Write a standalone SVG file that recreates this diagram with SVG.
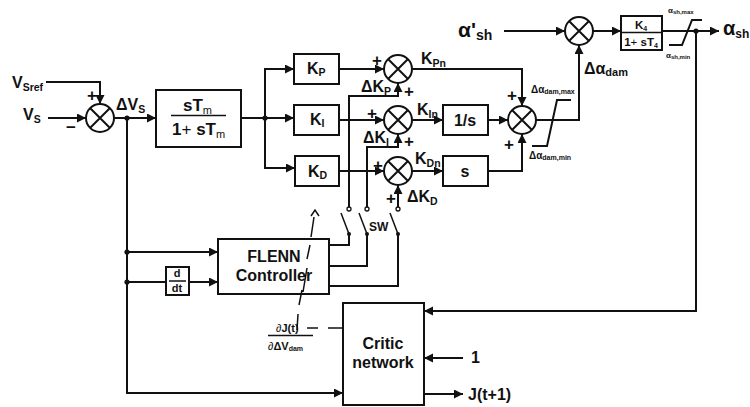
<svg xmlns="http://www.w3.org/2000/svg" width="750" height="407" viewBox="0 0 750 407">
<style>
text{font-family:"Liberation Sans",Arial,sans-serif;font-weight:700;fill:#111}
.l{fill:none;stroke:#111;stroke-width:2}
.n{fill:none;stroke:#111;stroke-width:1.5}
.b{fill:#fff;stroke:#111;stroke-width:2}
.s{fill:#fff;stroke:#111;stroke-width:2}
.t{font-size:16px}.m{text-anchor:middle}
.sm{font-size:10.500px}
.pl{font-size:17px}
.r{font-weight:400}
.d{fill:#111}
.o{fill:#fff;stroke:#111;stroke-width:1.3}
</style>
<defs>
<marker id="a" markerUnits="userSpaceOnUse" markerWidth="10" markerHeight="10" refX="9" refY="4.500" orient="auto"><path d="M0 0L9 4.500L0 9Z" fill="#111"/></marker>
<g id="x"><circle r="14" class="s"/><path d="M-10-10L10 10M-10 10L10-10" class="l"/></g>
</defs>
<g id="connectors">
<path class="l" d="M46 82H100V104" marker-end="url(#a)"/>
<path class="l" d="M48 118H86" marker-end="url(#a)"/>
<path class="l" d="M114 118H156" marker-end="url(#a)"/>
<path class="l" d="M241 118H294" marker-end="url(#a)"/>
<path class="l" d="M265 118V69H294" marker-end="url(#a)"/>
<path class="l" d="M265 118V168H295" marker-end="url(#a)"/>
<path class="l" d="M339 69H384" marker-end="url(#a)"/>
<path class="l" d="M339 120H384" marker-end="url(#a)"/>
<path class="l" d="M339 171H384" marker-end="url(#a)"/>
<path class="l" d="M412 69H522V106" marker-end="url(#a)"/>
<path class="l" d="M412 120H443" marker-end="url(#a)"/>
<path class="l" d="M488 120H508" marker-end="url(#a)"/>
<path class="l" d="M412 171H443" marker-end="url(#a)"/>
<path class="l" d="M488 171H522V134" marker-end="url(#a)"/>
<path class="l" d="M536 120H579V45" marker-end="url(#a)"/>
<path class="l" d="M532 146H547L557 100H571"/>
<path class="l" d="M504 31H565" marker-end="url(#a)"/>
<path class="l" d="M593 31H621" marker-end="url(#a)"/>
<path class="l" d="M662 31H719" marker-end="url(#a)"/>
<path class="l" d="M669 45H682L692 20H702"/>
<path class="l" d="M696 31V311H424" marker-end="url(#a)"/>
<path class="l" d="M127 118V393H343" marker-end="url(#a)"/>
<path class="l" d="M127 252H218" marker-end="url(#a)"/>
<path class="l" d="M127 282H166"/>
<path class="l" d="M189 282H218" marker-end="url(#a)"/>
<path class="l" d="M329 245H349V234"/>
<path class="l" d="M329 266H367V234"/>
<path class="l" d="M329 286H398V234"/>
<path class="n" d="M341 213L349 234M359 213L367 234M390 213L398 234"/>
<path class="l" d="M349 209V96H398V83" marker-end="url(#a)"/>
<path class="l" d="M367 209V147H398V134" marker-end="url(#a)"/>
<path class="l" d="M398 209V185" marker-end="url(#a)"/>
<path class="l" d="M463 358H424" marker-end="url(#a)"/>
<path class="l" d="M424 394H463" marker-end="url(#a)"/>
<path class="n" d="M343 328H328M318 328H307"/>
</g>
<g id="junctions">
<circle class="d" cx="127" cy="118" r="2.600"/><circle class="d" cx="265" cy="118" r="2.600"/><circle class="d" cx="696" cy="31" r="2.600"/><circle class="d" cx="127" cy="252" r="2.600"/><circle class="d" cx="127" cy="282" r="2.600"/>
<circle class="d" cx="349" cy="234" r="2"/><circle class="d" cx="367" cy="234" r="2"/><circle class="d" cx="398" cy="234" r="2"/>
<circle class="o" cx="349" cy="209" r="2"/><circle class="o" cx="367" cy="209" r="2"/><circle class="o" cx="398" cy="209" r="2"/>
</g>
<g id="sum1"><use href="#x" x="100" y="118"/></g>
<g id="sumP"><use href="#x" x="398" y="69"/></g>
<g id="sumI"><use href="#x" x="398" y="120"/></g>
<g id="sumD"><use href="#x" x="398" y="171"/></g>
<g id="sum4"><use href="#x" x="522" y="120"/></g>
<g id="sum5"><use href="#x" x="579" y="31"/></g>
<g id="washout"><rect class="b" x="156" y="90" width="85" height="57"/><path class="n" d="M171 115.500H226"/>
<text x="183" y="111" style="font-size:17px">sT<tspan dy="3" class="r" style="font-size:11px">m</tspan></text>
<text x="172" y="135" style="font-size:17px">1<tspan class="r">+</tspan> sT<tspan dy="3" class="r" style="font-size:11px">m</tspan></text></g>
<g id="kp"><rect class="b" x="294" y="54" width="45" height="30"/><text class="t" x="307" y="74">K<tspan class="sm" dy="2">P</tspan></text></g>
<g id="ki"><rect class="b" x="294" y="105" width="45" height="30"/><text class="t" x="310" y="125">K<tspan class="sm" dy="2">I</tspan></text></g>
<g id="kd"><rect class="b" x="295" y="156" width="44" height="30"/><text class="t" x="308" y="177">K<tspan class="sm" dy="2">D</tspan></text></g>
<g id="integ"><rect class="b" x="443" y="105" width="45" height="30"/><text class="t m" x="465" y="126">1/s</text></g>
<g id="deriv"><rect class="b" x="443" y="156" width="45" height="30"/><text class="t m" x="465" y="177">s</text></g>
<g id="k4"><rect class="b" x="621" y="16" width="41" height="34"/><path class="n" d="M622 32.500H661"/>
<text class="m" x="641" y="29" style="font-size:11.500px">K<tspan dy="2" style="font-size:7px">4</tspan></text>
<text class="m" x="641" y="46" style="font-size:11.500px">1<tspan class="r">+</tspan> sT<tspan dy="2" style="font-size:7px">4</tspan></text></g>
<g id="ddt"><rect class="b" x="166" y="267" width="23" height="28"/><path class="n" d="M169 281H186"/><text class="m" x="177" y="277" style="font-size:11px">d</text><text class="m" x="177" y="292" style="font-size:11px">dt</text></g>
<g id="flenn"><rect class="b" x="218" y="239" width="111" height="55"/><text class="t m" x="274" y="262">FLENN</text><text class="t m" x="274" y="281">Controller</text></g>
<g id="critic"><rect class="b" x="343" y="303" width="81" height="102"/><text class="t m" x="383" y="349">Critic</text><text class="t m" x="383" y="368">network</text></g>
<g id="dashed-arrow"><path class="n" d="M297 330L298 314M299 305L302 290M303 292L307 268M307 259L310 245M311 237L314 217M311 216L315 210L319 216"/></g>
<g id="labels">
<text class="t" x="12" y="88">V<tspan class="sm" dy="3">Sref</tspan></text>
<text class="t" x="23" y="120">V<tspan class="sm" dy="3">S</tspan></text>
<text class="pl" x="87" y="101">+</text>
<text class="pl" x="66" y="133">−</text>
<text class="t" x="116" y="110">ΔV<tspan class="sm" dy="3">S</tspan></text>
<text class="pl" x="372" y="66">+</text>
<text class="pl" x="367" y="119">+</text>
<text class="pl" x="373" y="171">+</text>
<text class="pl" x="404" y="97">+</text>
<text class="pl" x="404" y="147">+</text>
<text class="pl" x="386" y="204">+</text>
<text class="t" x="361" y="92">ΔK<tspan class="sm" dy="3">P</tspan></text>
<text class="t" x="363" y="143">ΔK<tspan class="sm" dy="3">I</tspan></text>
<text class="t" x="407" y="202">ΔK<tspan class="sm" dy="3">D</tspan></text>
<text class="t" x="421" y="64">K<tspan class="sm" dy="3">Pn</tspan></text>
<text class="t" x="417" y="115">K<tspan class="sm" dy="3">In</tspan></text>
<text class="t" x="415" y="164">K<tspan class="sm" dy="3">Dn</tspan></text>
<text class="pl" x="507" y="101">+</text>
<text class="pl" x="504" y="150">+</text>
<text x="531" y="93" style="font-size:10px">Δα<tspan dy="1" style="font-size:7px">dam,max</tspan></text>
<text x="529" y="159" style="font-size:10px">Δα<tspan dy="1" style="font-size:7px">dam,min</tspan></text>
<text x="584" y="74" style="font-size:16px">Δα<tspan dy="2" style="font-size:11px">dam</tspan></text>
<text x="458" y="37" style="font-size:21px">α'<tspan dy="3" style="font-size:14px">sh</tspan></text>
<text x="723" y="35" style="font-size:20px">α<tspan dy="3" style="font-size:12px">sh</tspan></text>
<text x="668" y="13" style="font-size:8px">α<tspan dy="1" style="font-size:6px">sh,max</tspan></text>
<text x="666" y="58" style="font-size:8px">α<tspan dy="1" style="font-size:6px">sh,min</tspan></text>
<text x="369" y="231" style="font-size:12px">SW</text>
<text x="276" y="332" style="font-size:11px"><tspan class="r">∂</tspan>J(t)</text>
<path class="n" d="M268 335.500H313"/>
<text x="268" y="350" style="font-size:11px"><tspan class="r">∂</tspan>ΔV<tspan dy="1" style="font-size:7px">dam</tspan></text>
<text class="t" x="471" y="363">1</text>
<text class="t" x="468" y="400">J(t+1)</text>
</g>
</svg>
